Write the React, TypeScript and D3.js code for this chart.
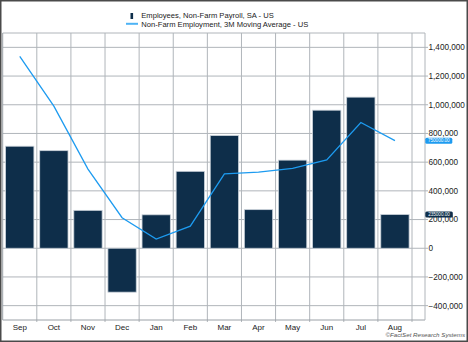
import React from "react";
import * as d3 from "d3";

const months = ["Sep", "Oct", "Nov", "Dec", "Jan", "Feb", "Mar", "Apr", "May", "Jun", "Jul", "Aug"];
const payroll = [711000, 680000, 264000, -306000, 233000, 536000, 785000, 269000, 614000, 962000, 1053000, 235000];
const movingAvg = [1337000, 990000, 552000, 213000, 64000, 154000, 518000, 530000, 556000, 615000, 876000, 750000];
const yTicks = [-400000, -200000, 0, 200000, 400000, 600000, 800000, 1000000, 1200000, 1400000];
const legendLabels = ["Employees, Non-Farm Payroll, SA - US", "Non-Farm Employment, 3M Moving Average - US"];

const W = 468;
const H = 342;
const plotLeft = 2.7;
const bandRight = 412;
const plotRight = 425;
const plotTop = 33;
const plotBottom = 320;

const BAR = "#0e2e4a";
const LINE = "#1d9bf0";
const GRID = "#b0b5ba";

export default function App() {
  const x = d3.scaleBand<string>().domain(months).range([plotLeft, bandRight]).padding(0);
  const y = d3.scaleLinear().domain([-500000, 1500000]).range([plotBottom, plotTop]);
  const bw = x.bandwidth() * 0.83;
  const cx = (m: string) => (x(m) as number) + x.bandwidth() / 2;
  const fmt = d3.format(",");
  const line = d3
    .line<number>()
    .x((_, i) => cx(months[i]))
    .y((d) => y(d));

  const lastBar = payroll[payroll.length - 1];
  const lastAvg = movingAvg[movingAvg.length - 1];

  return (
    <svg
      width={W}
      height={H}
      style={{ position: "absolute", left: 0, top: 0, fontFamily: "Liberation Sans, Arial, sans-serif" }}
    >
      <rect x={0} y={0} width={W} height={H} fill="#fff" />
      {/* horizontal grid */}
      {yTicks.map((t) => (
        <line key={"h" + t} x1={plotLeft} x2={plotRight + 3} y1={y(t)} y2={y(t)} stroke={GRID} strokeWidth={1} />
      ))}
      {/* vertical grid at band boundaries */}
      {months.map((m, i) =>
        i === 0 ? null : (
          <line key={"v" + m} x1={x(m)} x2={x(m)} y1={plotTop} y2={plotBottom + 2} stroke={GRID} strokeWidth={1} />
        )
      )}
      <line x1={bandRight} x2={bandRight} y1={plotTop} y2={plotBottom + 2} stroke={GRID} strokeWidth={1} />
      {/* plot frame */}
      <line x1={plotLeft} x2={plotRight} y1={plotTop} y2={plotTop} stroke={GRID} />
      <line x1={plotLeft} x2={plotRight} y1={plotBottom} y2={plotBottom} stroke="#9aa0a6" />
      <line x1={plotRight} x2={plotRight} y1={plotTop} y2={plotBottom} stroke={GRID} />
      <line x1={plotLeft} x2={plotLeft} y1={plotTop} y2={plotBottom} stroke="#9aa0a6" />
      {/* bars */}
      {payroll.map((v, i) => {
        const m = months[i];
        const y0 = y(Math.max(0, v));
        const y1 = y(Math.min(0, v));
        return (
          <rect
            key={"b" + m}
            x={cx(m) - bw / 2}
            y={y0}
            width={bw}
            height={y1 - y0}
            fill={BAR}
            stroke="#c9d1d9"
            strokeWidth={0.8}
          />
        );
      })}
      {/* moving average line */}
      <path d={line(movingAvg) || ""} fill="none" stroke={LINE} strokeWidth={1.3} />
      {/* y tick labels */}
      {yTicks.map((t) => (
        <text key={"t" + t} x={428.5} y={y(t)} dy="0.35em" fontSize={8.2} fill="#222">
          {fmt(t)}
        </text>
      ))}
      {/* x labels */}
      {months.map((m) => (
        <text key={"x" + m} x={cx(m)} y={329.8} textAnchor="middle" fontSize={8} fill="#222">
          {m}
        </text>
      ))}
      {/* last value tags */}
      <rect x={425.3} y={y(lastAvg) - 3} width={27} height={6} rx={1.5} fill={LINE} />
      <text x={438.8} y={y(lastAvg)} dy="0.35em" textAnchor="middle" fontSize={4.6} fill="#fff">
        {lastAvg.toFixed(2)}
      </text>
      <rect x={425.3} y={y(lastBar) - 3} width={27.5} height={6} rx={1.5} fill={BAR} />
      <text x={439} y={y(lastBar)} dy="0.35em" textAnchor="middle" fontSize={4.6} fill="#fff">
        {lastBar.toFixed(2)}
      </text>
      {/* legend */}
      <rect x={130.5} y={13} width={2.6} height={6} fill={BAR} />
      <text x={141.3} y={15.8} dy="0.35em" fontSize={7.6} fill="#222">
        {legendLabels[0]}
      </text>
      <line x1={126} x2={138} y1={23.8} y2={23.8} stroke="#4db3f5" strokeWidth={2} />
      <text x={141.3} y={24} dy="0.35em" fontSize={7.6} fill="#222">
        {legendLabels[1]}
      </text>
      {/* credit */}
      <text x={465} y={337.3} textAnchor="end" fontSize={6.2} fontStyle="italic" fill="#555">
        ©FactSet Research Systems
      </text>
      {/* outer frame */}
      <rect x={0.75} y={0.75} width={W - 1.5} height={H - 1.5} fill="none" stroke="#4a4a4a" strokeWidth={1.5} />
    </svg>
  );
}
